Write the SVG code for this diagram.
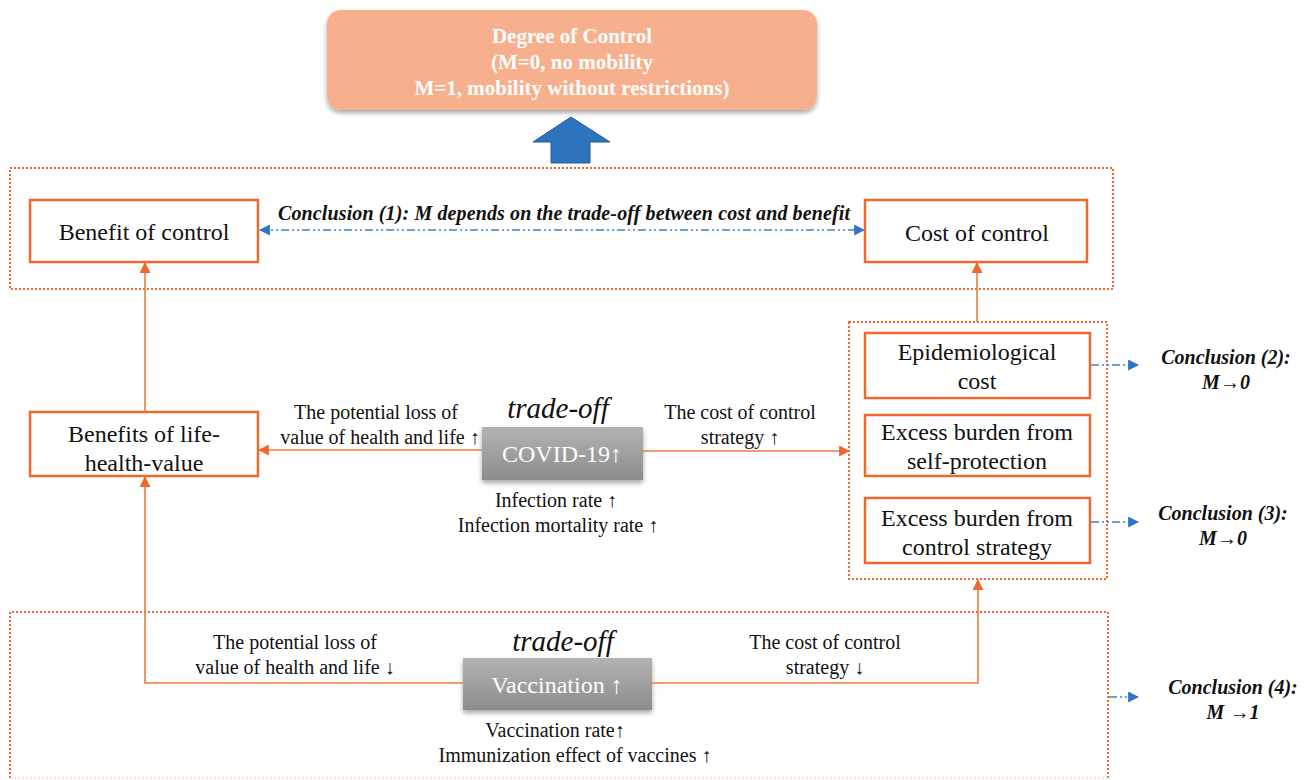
<svg xmlns="http://www.w3.org/2000/svg" width="1311" height="780" viewBox="0 0 1311 780" font-family="'Liberation Serif', 'DejaVu Serif', serif">
<defs>
<style>
text{font-family:'Liberation Serif','DejaVu Serif',serif;fill:#111;text-anchor:middle}
.lbl{font-size:24px}
.sm{font-size:20px}
.conc{font-size:20px;font-weight:bold;font-style:italic}
.to{font-size:29px;font-style:italic}
.hd{font-size:21px;font-weight:bold;fill:#fff}
.box{fill:#fff;stroke:#EE6A2C;stroke-width:2.5}
.dot{fill:none;stroke:#EE6A2C;stroke-width:2;stroke-dasharray:2 2}
.con{fill:none;stroke:#F07A3A;stroke-width:1.6}
.blue{fill:none;stroke:#3D85C6;stroke-width:1.3;stroke-dasharray:8 3 2 3 2 3}
.gtext{fill:#fff;font-size:24px}
</style>
<marker id="ao" viewBox="0 0 10 10" refX="9" refY="5" markerWidth="11" markerHeight="11" markerUnits="userSpaceOnUse" orient="auto"><path d="M0,0 L10,5 L0,10 z" fill="#EE6A2C"/></marker>
<marker id="ab" viewBox="0 0 10 10" refX="9" refY="5" markerWidth="11" markerHeight="11" markerUnits="userSpaceOnUse" orient="auto-start-reverse"><path d="M0,0 L10,5 L0,10 z" fill="#2E75C8"/></marker>
<linearGradient id="gg" x1="0" y1="0" x2="0" y2="1"><stop offset="0" stop-color="#B3B3B3"/><stop offset="1" stop-color="#8C8C8C"/></linearGradient>
<filter id="sh" x="-10%" y="-10%" width="120%" height="130%"><feDropShadow dx="0" dy="3" stdDeviation="2.5" flood-color="#000" flood-opacity="0.35"/></filter>
</defs>
<rect width="1311" height="780" fill="#fff"/>

<g id="degree">
<rect x="327" y="10" width="490" height="100" rx="14" fill="#F7B08D" filter="url(#sh)"/>
<text class="hd" x="572" y="43">Degree of Control</text>
<text class="hd" x="572" y="69">(M=0, no mobility</text>
<text class="hd" x="572" y="95">M=1, mobility without restrictions)</text>
</g>
<g id="bigarrow">
<path d="M571,117 L610,142 L590,142 L590,163 L551,163 L551,142 L533,142 z" fill="#2E74BD" stroke="#235C97" stroke-width="1"/>
</g>

<g id="topgroup"><rect class="dot" x="10" y="168" width="1103" height="121"/></g>
<g id="benefit"><rect class="box" x="30" y="200" width="228" height="62"/><text class="lbl" x="144" y="240">Benefit of control</text></g>
<g id="cost"><rect class="box" x="865" y="200" width="222" height="62"/><text class="lbl" x="977" y="241">Cost of control</text></g>
<text class="conc" x="564" y="220" textLength="572">Conclusion (1): M depends on the trade-off between cost and benefit</text>

<g id="costgroup"><rect class="dot" x="849" y="322" width="258" height="257"/></g>
<g id="epi"><rect class="box" x="865" y="333" width="225" height="65"/><text class="lbl" x="977" y="360">Epidemiological</text><text class="lbl" x="977" y="389">cost</text></g>
<g id="selfprot"><rect class="box" x="865" y="415" width="225" height="61"/><text class="lbl" x="977" y="440">Excess burden from</text><text class="lbl" x="977" y="469">self-protection</text></g>
<g id="ctrlstrat"><rect class="box" x="865" y="498" width="225" height="65"/><text class="lbl" x="977" y="526">Excess burden from</text><text class="lbl" x="977" y="555">control strategy</text></g>
<text class="conc" x="1226" y="364">Conclusion (2):</text>
<text class="conc" x="1226" y="389">M→0</text>
<text class="conc" x="1223" y="520">Conclusion (3):</text>
<text class="conc" x="1223" y="545">M→0</text>

<g id="lifehealth"><rect class="box" x="30" y="412" width="228" height="64"/><text class="lbl" x="144" y="442">Benefits of life-</text><text class="lbl" x="144" y="471">health-value</text></g>

<g id="covid">
<text class="to" x="558" y="418">trade-off</text>
<rect x="482" y="427" width="161" height="53" fill="url(#gg)" filter="url(#sh)"/>
<text class="gtext" x="562" y="462">COVID-19↑</text>
</g>
<text class="sm" x="376" y="419">The potential loss of</text>
<text class="sm" x="380" y="444">value of health and life ↑</text>
<text class="sm" x="740" y="419">The cost of control</text>
<text class="sm" x="740" y="444">strategy ↑</text>
<text class="sm" x="556" y="507">Infection rate ↑</text>
<text class="sm" x="558" y="532">Infection mortality rate ↑</text>

<g id="vacgroup"><path class="dot" d="M10,778 L10,612 L1108,612 L1108,778"/><line x1="10" y1="778" x2="1108" y2="778" stroke="#F6D9C8" stroke-width="1.5" stroke-dasharray="2 2"/></g>
<g id="vaccination">
<text class="to" x="563" y="651">trade-off</text>
<rect x="463" y="658" width="189" height="52" fill="url(#gg)" filter="url(#sh)"/>
<text class="gtext" x="557" y="693">Vaccination ↑</text>
</g>
<text class="sm" x="295" y="649">The potential loss of</text>
<text class="sm" x="295" y="674">value of health and life ↓</text>
<text class="sm" x="825" y="649">The cost of control</text>
<text class="sm" x="825" y="674">strategy ↓</text>
<text class="sm" x="555" y="737">Vaccination rate↑</text>
<text class="sm" x="575" y="762">Immunization effect of vaccines ↑</text>
<text class="conc" x="1233" y="694">Conclusion (4):</text>
<text class="conc" x="1233" y="719">M →1</text>

<g id="connectors">
<line class="con" x1="145" y1="412" x2="145" y2="263" marker-end="url(#ao)"/>
<line class="con" x1="977" y1="322" x2="977" y2="263" marker-end="url(#ao)"/>
<line class="con" x1="482" y1="450" x2="259" y2="450" marker-end="url(#ao)"/>
<line class="con" x1="643" y1="451" x2="849" y2="451" marker-end="url(#ao)"/>
<polyline class="con" points="463,683 145,683 145,477" marker-end="url(#ao)"/>
<polyline class="con" points="652,683 978,683 978,580" marker-end="url(#ao)"/>
<line class="blue" x1="260" y1="230" x2="864" y2="230" marker-start="url(#ab)" marker-end="url(#ab)"/>
<line class="blue" x1="1091" y1="365" x2="1138" y2="365" marker-end="url(#ab)"/>
<line class="blue" x1="1091" y1="522" x2="1138" y2="522" marker-end="url(#ab)"/>
<line class="blue" x1="1109" y1="697" x2="1138" y2="697" marker-end="url(#ab)"/>
</g>
</svg>
